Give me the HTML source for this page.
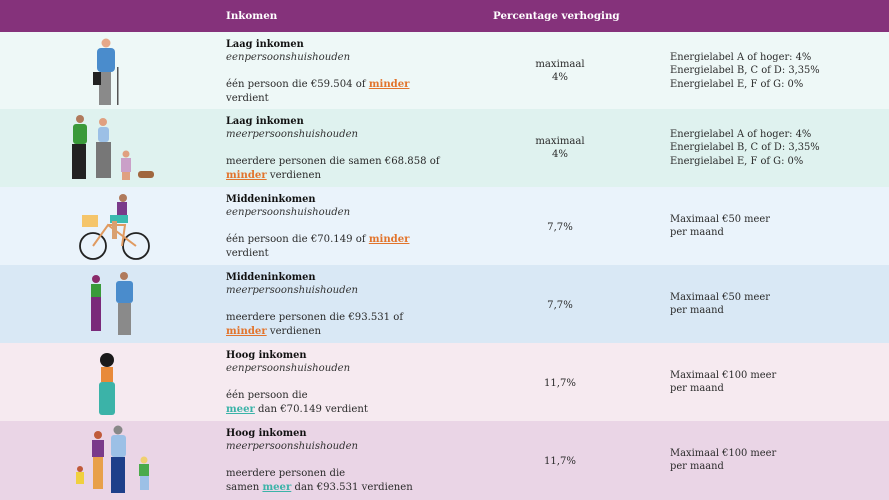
<!DOCTYPE html>
<html><head><meta charset="utf-8"><style>
*{margin:0;padding:0;box-sizing:border-box}
body{width:889px;height:500px;overflow:hidden;font-family:"DejaVu Serif","Liberation Serif",serif;color:#2b2b2b;position:relative;background:#fff}
.hdr{position:absolute;left:0;top:0;width:889px;height:32px;background:#85327b;color:#fff;font-weight:bold;font-size:10.3px}
.hdr span{position:absolute;top:10px}
.row{position:absolute;left:0;width:889px;height:78px}
.c2{position:absolute;left:226px;font-size:10.1px;line-height:13.4px;white-space:nowrap}
.c2 b{font-weight:bold;color:#111;font-size:9.8px}
.c2 i{display:block;margin-bottom:13.4px;color:#333}
.c3{position:absolute;left:500px;width:120px;text-align:center;font-size:10.1px;line-height:13.4px}
.c4{position:absolute;left:670px;font-size:9.9px;line-height:13.4px;white-space:nowrap}
.o{color:#e2742c;font-weight:bold;text-decoration:underline}
.t{color:#3bb3a8;font-weight:bold;text-decoration:underline}
svg{position:absolute;left:0;top:0}
</style></head><body>
<div class="hdr">
<span style="left:226px">Inkomen</span>
<span style="left:493px">Percentage verhoging</span>
</div>

<div class="row" style="top:32px;background:#eef8f7">
<svg width="200" height="78">
<circle cx="106" cy="11" r="4.5" fill="#e5a88a"/><rect x="97" y="16" width="18" height="24" rx="4" fill="#4a8ccc"/>
<rect x="99" y="40" width="12" height="33" fill="#8a8a8a"/><rect x="93" y="40" width="8" height="13" fill="#222"/>
<rect x="117" y="35" width="1.5" height="38" fill="#555"/></svg>
<div class="c2" style="top:6px"><b>Laag inkomen</b><i>eenpersoonshuishouden</i>één persoon die €59.504 of <span class="o">minder</span><br>verdient</div>
<div class="c3" style="top:26px">maximaal<br>4%</div>
<div class="c4" style="top:19px">Energielabel A of hoger: 4%<br>Energielabel B, C of D: 3,35%<br>Energielabel E, F of G: 0%</div>
</div>

<div class="row" style="top:109px;background:#dff2ef">
<svg width="200" height="78">
<circle cx="80" cy="10" r="4" fill="#b07a5c"/><rect x="73" y="15" width="14" height="20" rx="3" fill="#3a9a3a"/><rect x="72" y="35" width="14" height="35" fill="#222"/>
<circle cx="103" cy="13" r="4" fill="#e0a080"/><rect x="98" y="18" width="11" height="15" rx="3" fill="#9cc0e6"/><rect x="96" y="33" width="15" height="36" fill="#777"/>
<circle cx="126" cy="45" r="3.5" fill="#e0a080"/><rect x="121" y="49" width="10" height="14" fill="#caa0c8"/><rect x="122" y="63" width="8" height="8" fill="#e0a080"/>
<rect x="138" y="62" width="16" height="7" rx="3" fill="#a0673e"/></svg>
<div class="c2" style="top:6px"><b>Laag inkomen</b><i>meerpersoonshuishouden</i>meerdere personen die samen €68.858 of<br><span class="o">minder</span> verdienen</div>
<div class="c3" style="top:26px">maximaal<br>4%</div>
<div class="c4" style="top:19px">Energielabel A of hoger: 4%<br>Energielabel B, C of D: 3,35%<br>Energielabel E, F of G: 0%</div>
</div>

<div class="row" style="top:187px;background:#eaf3fb">
<svg width="200" height="78">
<circle cx="93" cy="59" r="13" fill="none" stroke="#222" stroke-width="1.8"/><circle cx="136" cy="59" r="13" fill="none" stroke="#222" stroke-width="1.8"/>
<path d="M93 59 L108 38 L136 59 M108 38 L125 38 L122 59" stroke="#e09a60" stroke-width="2" fill="none"/>
<rect x="82" y="28" width="16" height="12" fill="#f5c56a"/>
<circle cx="123" cy="11" r="4" fill="#b07a5c"/><rect x="117" y="15" width="10" height="14" fill="#7a3a8a"/><rect x="110" y="28" width="18" height="8" fill="#3bbab0"/><rect x="112" y="34" width="5" height="18" fill="#d9a070"/></svg>
<div class="c2" style="top:6px"><b>Middeninkomen</b><i>eenpersoonshuishouden</i>één persoon die €70.149 of <span class="o">minder</span><br>verdient</div>
<div class="c3" style="top:34px">7,7%</div>
<div class="c4" style="top:26px">Maximaal €50 meer<br>per maand</div>
</div>

<div class="row" style="top:265px;background:#d9e8f5">
<svg width="200" height="78">
<circle cx="96" cy="14" r="4" fill="#8a2a6a"/><rect x="91" y="19" width="10" height="13" fill="#3a9a3a"/><rect x="91" y="32" width="10" height="34" fill="#7a2a7a"/>
<circle cx="124" cy="11" r="4" fill="#b07a5c"/><rect x="116" y="16" width="17" height="22" rx="3" fill="#4a8ccc"/><rect x="118" y="38" width="13" height="32" fill="#8a8a8a"/></svg>
<div class="c2" style="top:6px"><b>Middeninkomen</b><i>meerpersoonshuishouden</i>meerdere personen die €93.531 of<br><span class="o">minder</span> verdienen</div>
<div class="c3" style="top:34px">7,7%</div>
<div class="c4" style="top:26px">Maximaal €50 meer<br>per maand</div>
</div>

<div class="row" style="top:343px;background:#f6eaf0">
<svg width="200" height="78">
<circle cx="107" cy="17" r="7" fill="#1a1a1a"/><rect x="101" y="24" width="12" height="15" fill="#e88a3a"/><rect x="99" y="39" width="16" height="33" rx="3" fill="#3bb3a8"/></svg>
<div class="c2" style="top:6px"><b>Hoog inkomen</b><i>eenpersoonshuishouden</i>één persoon die<br><span class="t">meer</span> dan €70.149 verdient</div>
<div class="c3" style="top:34px">11,7%</div>
<div class="c4" style="top:26px">Maximaal €100 meer<br>per maand</div>
</div>

<div class="row" style="top:421px;height:79px;background:#ead5e6">
<svg width="200" height="79">
<circle cx="98" cy="14" r="4" fill="#c05a3a"/><rect x="92" y="19" width="12" height="17" fill="#7a3a8a"/><rect x="93" y="36" width="10" height="32" fill="#e8a04a"/>
<circle cx="118" cy="9" r="4.5" fill="#888"/><rect x="111" y="14" width="15" height="22" rx="3" fill="#9cc0e6"/><rect x="111" y="36" width="14" height="36" fill="#1e3f8a"/>
<circle cx="80" cy="48" r="3" fill="#c05a3a"/><rect x="76" y="51" width="8" height="12" fill="#f0d040"/>
<circle cx="144" cy="39" r="3.5" fill="#f0d070"/><rect x="139" y="43" width="10" height="12" fill="#4aaa4a"/><rect x="140" y="55" width="9" height="14" fill="#9cc0e6"/></svg>
<div class="c2" style="top:6px"><b>Hoog inkomen</b><i>meerpersoonshuishouden</i>meerdere personen die<br>samen <span class="t">meer</span> dan €93.531 verdienen</div>
<div class="c3" style="top:34px">11,7%</div>
<div class="c4" style="top:26px">Maximaal €100 meer<br>per maand</div>
</div>
</body></html>
